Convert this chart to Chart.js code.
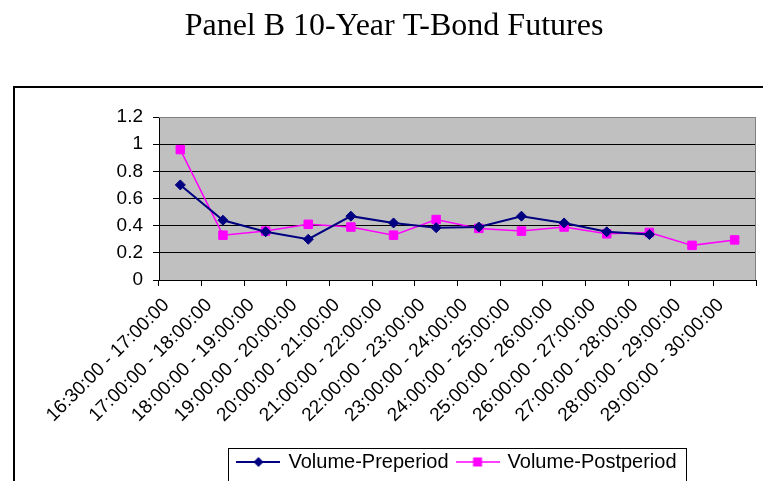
<!DOCTYPE html>
<html>
<head>
<meta charset="utf-8">
<script src="https://cdn.jsdelivr.net/npm/chart.js@4"></script>
<style>
  html, body { margin: 0; padding: 0; background: #fff; overflow: hidden; }
  canvas { display: block; }
</style>
</head>
<body>
<canvas id="panelChart" width="763" height="482"></canvas>
<script>
// chart data
const chartTitle = 'Panel B 10-Year T-Bond Futures';
const categories = [
    '16:30:00 - 17:00:00', '17:00:00 - 18:00:00', '18:00:00 - 19:00:00',
    '19:00:00 - 20:00:00', '20:00:00 - 21:00:00', '21:00:00 - 22:00:00',
    '22:00:00 - 23:00:00', '23:00:00 - 24:00:00', '24:00:00 - 25:00:00',
    '25:00:00 - 26:00:00', '26:00:00 - 27:00:00', '27:00:00 - 28:00:00',
    '28:00:00 - 29:00:00', '29:00:00 - 30:00:00'
];
const preperiod = [0.70, 0.44, 0.355, 0.30, 0.47, 0.42, 0.385, 0.39, 0.47, 0.42, 0.355, 0.335, null, null];
const postperiod = [0.96, 0.33, 0.36, 0.41, 0.39, 0.33, 0.445, 0.38, 0.36, 0.39, 0.34, 0.35, 0.255, 0.295];
const yTickLabels = ['0', '0.2', '0.4', '0.6', '0.8', '1', '1.2'];

const NAVY = '#000080';
const MAGENTA = '#FF00FF';

// legend key: short line with the marker in the middle
function makeLegendKey(color, lineWidth, shape) {
    const c = document.createElement('canvas');
    c.width = 44;
    c.height = 12;
    const g = c.getContext('2d');
    g.strokeStyle = color;
    g.lineWidth = lineWidth;
    g.beginPath();
    g.moveTo(0, 6);
    g.lineTo(44, 6);
    g.stroke();
    g.fillStyle = color;
    g.beginPath();
    if (shape === 'diamond') {
        g.moveTo(22, 1);
        g.lineTo(27, 6);
        g.lineTo(22, 11);
        g.lineTo(17, 6);
        g.closePath();
    } else {
        g.rect(17.5, 1.5, 9, 9);
    }
    g.fill();
    return c;
}

const legendKeys = [
    makeLegendKey(NAVY, 2, 'diamond'),
    makeLegendKey(MAGENTA, 1.5, 'square')
];

// gray plot area + outer frame
const framePlugin = {
    id: 'frame',
    beforeDraw(chart) {
        const { ctx, chartArea } = chart;
        ctx.save();
        ctx.fillStyle = '#C0C0C0';
        ctx.fillRect(chartArea.left, chartArea.top, chartArea.right - chartArea.left, chartArea.bottom - chartArea.top);
        ctx.strokeStyle = '#000';
        ctx.lineWidth = 2;
        ctx.strokeRect(14, 87, 800, 500);
        ctx.restore();
    },
    beforeDatasetsDraw(chart) {
        const { ctx, chartArea } = chart;
        ctx.save();
        ctx.strokeStyle = '#808080';
        ctx.lineWidth = 1;
        ctx.beginPath();
        ctx.moveTo(chartArea.left, chartArea.top + 0.5);
        ctx.lineTo(chartArea.right - 0.5, chartArea.top + 0.5);
        ctx.lineTo(chartArea.right - 0.5, chartArea.bottom);
        ctx.stroke();
        ctx.restore();
    },
    afterDraw(chart) {
        // box around the legend
        const boxes = chart.legend.legendHitBoxes;
        if (!boxes || !boxes.length) return;
        const first = boxes[0];
        const last = boxes[boxes.length - 1];
        const left = Math.round(first.left) - 9.5;
        const right = Math.round(last.left + last.width) + 9.5;
        const ctx = chart.ctx;
        ctx.save();
        ctx.strokeStyle = '#000';
        ctx.lineWidth = 1;
        ctx.strokeRect(left, 448.5, right - left, 60);
        ctx.restore();
    }
};

Chart.defaults.font.family = "'Liberation Sans', Arial, sans-serif";
Chart.defaults.color = '#000';

const ctx = document.getElementById('panelChart').getContext('2d');
const panelChart = new Chart(ctx, {
    type: 'line',
    data: {
        labels: categories,
        datasets: [
            {
                label: 'Volume-Preperiod',
                data: preperiod,
                borderColor: NAVY,
                backgroundColor: NAVY,
                borderWidth: 2,
                pointStyle: 'rectRot',
                pointRadius: 5,
                pointBorderWidth: 1,
                tension: 0,
                spanGaps: false
            },
            {
                label: 'Volume-Postperiod',
                data: postperiod,
                borderColor: MAGENTA,
                backgroundColor: MAGENTA,
                borderWidth: 1.5,
                pointStyle: 'rect',
                pointRadius: 6,
                pointBorderWidth: 1,
                tension: 0
            }
        ]
    },
    options: {
        responsive: false,
        animation: false,
        layout: {
            padding: { left: 30, right: 5, top: 0, bottom: 0 }
        },
        scales: {
            x: {
                offset: true,
                grid: {
                    offset: true,
                    drawOnChartArea: false,
                    drawTicks: true,
                    tickLength: 6,
                    color: '#000'
                },
                border: { color: '#000', width: 1 },
                ticks: {
                    autoSkip: false,
                    minRotation: 45,
                    maxRotation: 45,
                    padding: 8,
                    labelOffset: -14,
                    font: { size: 19 },
                    color: '#000'
                },
                afterFit(scale) {
                    scale.height = 163;
                }
            },
            y: {
                min: 0,
                max: 1.2,
                ticks: {
                    stepSize: 0.2,
                    padding: 10,
                    font: { size: 19 },
                    color: '#000',
                    callback: (value, index) => yTickLabels[index]
                },
                grid: {
                    color: (c) => (c.tick && c.tick.value >= 1.19 ? '#808080' : '#000'),
                    tickColor: '#000',
                    tickLength: 6,
                    lineWidth: 1
                },
                border: { color: '#000', width: 1 },
                afterFit(scale) {
                    scale.width = 129;
                }
            }
        },
        plugins: {
            title: {
                display: true,
                text: chartTitle,
                color: '#000',
                font: { family: "'Liberation Serif', 'Times New Roman', serif", size: 32, weight: 'normal' },
                padding: { top: 7, bottom: 71.6 }
            },
            legend: {
                position: 'bottom',
                fullSize: false,
                labels: {
                    usePointStyle: true,
                    pointStyleWidth: 40,
                    padding: 9,
                    color: '#000',
                    font: { size: 20 },
                    generateLabels(chart) {
                        const items = Chart.defaults.plugins.legend.labels.generateLabels(chart);
                        items.forEach((item, i) => {
                            item.pointStyle = legendKeys[i];
                        });
                        return items;
                    }
                }
            },
            tooltip: { enabled: false }
        }
    },
    plugins: [framePlugin]
});
</script>
</body>
</html>
